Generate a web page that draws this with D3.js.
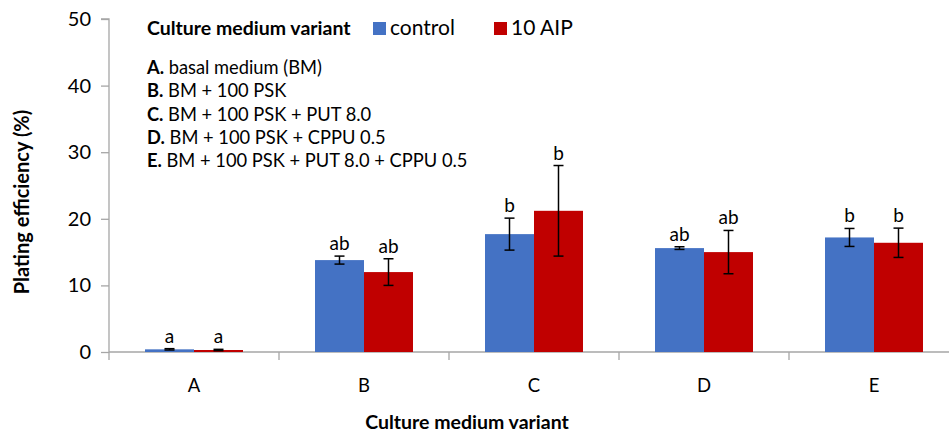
<!DOCTYPE html>
<html><head><meta charset="utf-8">
<script src="https://cdn.jsdelivr.net/npm/d3@7"></script>
<style>body{margin:0;background:#fff}text{font-family:Lato,"Liberation Sans",sans-serif;fill:#000}</style>
</head><body><svg id="c" width="949" height="435"></svg>
<script>
const categories = ["A","B","C","D","E"];
const seriesNames = ["control","10 AIP"];
const controlValues = [0.4, 13.8, 17.7, 15.6, 17.2];
const controlErrors = [0.1, 0.6, 2.4, 0.2, 1.35];
const controlLetters = ["a","ab","b","ab","b"];
const aipValues = [0.3, 12.0, 21.2, 15.0, 16.4];
const aipErrors = [0.1, 2.0, 6.8, 3.25, 2.2];
const aipLetters = ["a","ab","b","ab","b"];
const yTicks = [0,10,20,30,40,50];
const legendLines = [["A.","basal medium (BM)"],["B.","BM + 100 PSK"],["C.","BM + 100 PSK + PUT 8.0"],["D.","BM + 100 PSK + CPPU 0.5"],["E.","BM + 100 PSK + PUT 8.0 + CPPU 0.5"]];
const colors = ["#4472C4","#C00000"];

const svg = d3.select("#c");
const mLeft = 109, mRight = 959, mTop = 19, mBottom = 352;
const x0 = d3.scaleBand().domain(categories).range([mLeft, mRight]).paddingInner(0).paddingOuter(0);
const x1 = d3.scaleBand().domain(seriesNames).range([0, x0.bandwidth()]).paddingInner(0).paddingOuter(0.735);
const y = d3.scaleLinear().domain([0,50]).range([mBottom, mTop]);
const axisColor = "#a6a6a6";

// y axis
const ya = svg.append("g").attr("transform",`translate(${mLeft},0)`)
  .call(d3.axisLeft(y).tickValues(yTicks).tickSize(8).tickPadding(10));
ya.selectAll("path,line").attr("stroke",axisColor).attr("stroke-width",1.3);
ya.select(".domain").attr("d",`M-8,${y(50)}H0V${y(0)}`);
ya.selectAll("text").attr("font-size",20).attr("font-family","Lato");

// x axis
const xg = svg.append("g");
xg.append("line").attr("x1",mLeft).attr("x2",mRight).attr("y1",y(0)).attr("y2",y(0)).attr("stroke",axisColor).attr("stroke-width",1.3);
const bounds = categories.map(c=>x0(c)).concat([x0(categories[categories.length-1])+x0.bandwidth()]);
xg.selectAll("line.t").data(bounds).join("line").attr("class","t")
  .attr("x1",d=>d).attr("x2",d=>d).attr("y1",y(0)).attr("y2",y(0)+8).attr("stroke",axisColor).attr("stroke-width",1.3);
xg.selectAll("text").data(categories).join("text")
  .attr("x",d=>x0(d)+x0.bandwidth()/2).attr("y",392).attr("text-anchor","middle").attr("font-size",18.5).text(d=>d);

// bars
const data = categories.map((c,i)=>({c, vals:[
  {s:seriesNames[0], v:controlValues[i], e:controlErrors[i], l:controlLetters[i], col:colors[0]},
  {s:seriesNames[1], v:aipValues[i], e:aipErrors[i], l:aipLetters[i], col:colors[1]}]}));
const groups = svg.selectAll("g.grp").data(data).join("g").attr("class","grp").attr("transform",d=>`translate(${x0(d.c)},0)`);
groups.selectAll("rect").data(d=>d.vals).join("rect")
  .attr("x",d=>x1(d.s)).attr("width",x1.bandwidth()).attr("y",d=>y(d.v)).attr("height",d=>y(0)-y(d.v)).attr("fill",d=>d.col);
const eb = groups.selectAll("g.eb").data(d=>d.vals).join("g").attr("class","eb");
const cx = d=>x1(d.s)+x1.bandwidth()/2;
eb.append("line").attr("x1",cx).attr("x2",cx).attr("y1",d=>y(d.v+d.e)).attr("y2",d=>y(d.v-d.e)).attr("stroke","#000").attr("stroke-width",1.5);
eb.append("line").attr("x1",d=>cx(d)-5).attr("x2",d=>cx(d)+5).attr("y1",d=>y(d.v+d.e)).attr("y2",d=>y(d.v+d.e)).attr("stroke","#000").attr("stroke-width",1.5);
eb.append("line").attr("x1",d=>cx(d)-5).attr("x2",d=>cx(d)+5).attr("y1",d=>y(d.v-d.e)).attr("y2",d=>y(d.v-d.e)).attr("stroke","#000").attr("stroke-width",1.5);
eb.append("text").attr("x",cx).attr("y",d=>y(d.v+d.e)-6).attr("text-anchor","middle").attr("font-size",19).text(d=>d.l);

// axis titles
svg.append("text").attr("x",467).attr("y",429).attr("text-anchor","middle").attr("font-size",19.5).attr("font-weight","bold").text("Culture medium variant");
svg.append("text").attr("transform","translate(29,202) rotate(-90)").attr("text-anchor","middle").attr("font-size",20).attr("font-weight","bold").text("Plating efficiency (%)");

// legend
svg.append("text").attr("x",147).attr("y",35).attr("font-size",19.5).attr("font-weight","bold").text("Culture medium variant");
const lx = [373, 494];
seriesNames.forEach((s,i)=>{
  svg.append("rect").attr("x",lx[i]).attr("y",22).attr("width",13).attr("height",13).attr("fill",colors[i]);
  svg.append("text").attr("x",lx[i]+17).attr("y",35).attr("font-size",21).text(s);
});
legendLines.forEach((l,i)=>{
  const t = svg.append("text").attr("x",147).attr("y",74+i*23.3).attr("font-size",18.3);
  t.append("tspan").attr("font-weight","bold").text(l[0]);
  t.append("tspan").text(" "+l[1]);
});
</script></body></html>
